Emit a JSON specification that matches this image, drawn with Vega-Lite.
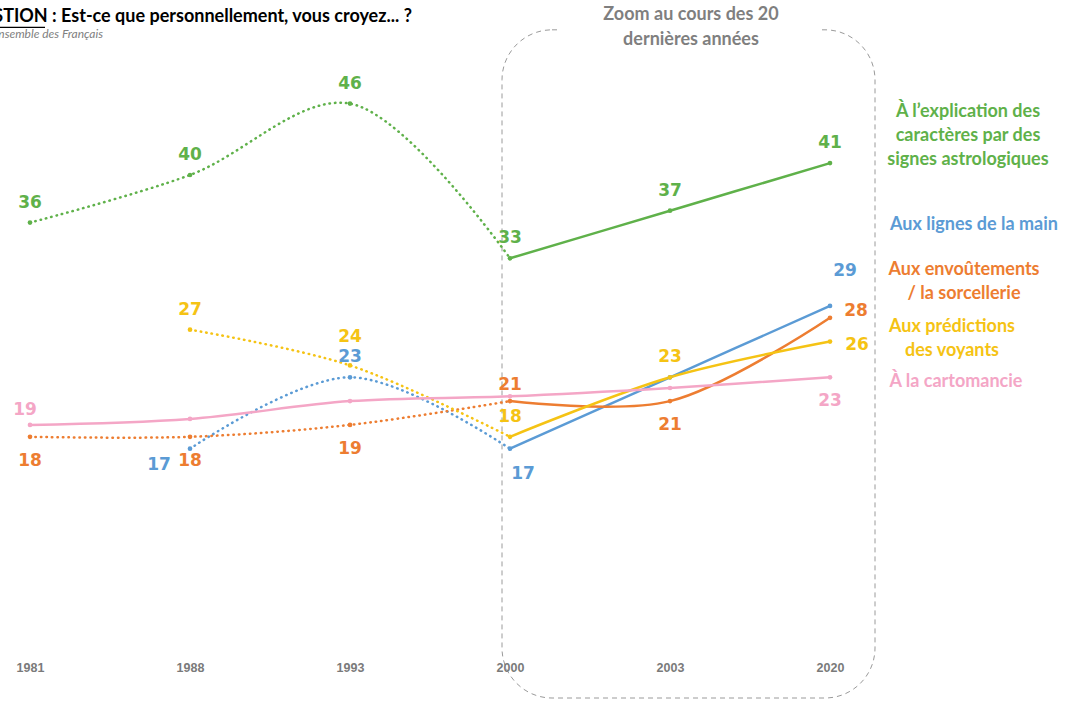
{
  "$schema": "https://vega.github.io/schema/vega-lite/v6.json",
  "width": 1068,
  "height": 701,
  "autosize": "none",
  "padding": 0,
  "background": "white",
  "config": {"view": {"stroke": null}},
  "data": {"values": [
    {"series": "Astrologie", "year": 1981, "value": 36},
    {"series": "Astrologie", "year": 1988, "value": 40},
    {"series": "Astrologie", "year": 1993, "value": 46},
    {"series": "Astrologie", "year": 2000, "value": 33},
    {"series": "Astrologie", "year": 2003, "value": 37},
    {"series": "Astrologie", "year": 2020, "value": 41},
    {"series": "Lignes de la main", "year": 1988, "value": 17},
    {"series": "Lignes de la main", "year": 1993, "value": 23},
    {"series": "Lignes de la main", "year": 2000, "value": 17},
    {"series": "Lignes de la main", "year": 2003, "value": 23},
    {"series": "Lignes de la main", "year": 2020, "value": 29},
    {"series": "Envoûtements", "year": 1981, "value": 18},
    {"series": "Envoûtements", "year": 1988, "value": 18},
    {"series": "Envoûtements", "year": 1993, "value": 19},
    {"series": "Envoûtements", "year": 2000, "value": 21},
    {"series": "Envoûtements", "year": 2003, "value": 21},
    {"series": "Envoûtements", "year": 2020, "value": 28},
    {"series": "Voyants", "year": 1988, "value": 27},
    {"series": "Voyants", "year": 1993, "value": 24},
    {"series": "Voyants", "year": 2000, "value": 18},
    {"series": "Voyants", "year": 2003, "value": 23},
    {"series": "Voyants", "year": 2020, "value": 26},
    {"series": "Cartomancie", "year": 1981, "value": 19},
    {"series": "Cartomancie", "year": 1988, "value": 19.5},
    {"series": "Cartomancie", "year": 1993, "value": 21},
    {"series": "Cartomancie", "year": 2000, "value": 21.4},
    {"series": "Cartomancie", "year": 2003, "value": 22.1},
    {"series": "Cartomancie", "year": 2020, "value": 23}
  ]},
  "encoding": {
    "x": {"field": "year", "type": "ordinal",
      "scale": {"type": "point", "domain": [1981, 1988, 1993, 2000, 2003, 2020], "range": [30, 830], "padding": 0},
      "axis": {"title": null, "domain": false, "ticks": false, "grid": false, "labelAngle": 0, "offset": -46,
        "labelFont": "Liberation Sans", "labelFontSize": 12.5, "labelColor": "#7a7a7a", "labelFontWeight": "bold", "labelPadding": 6}},
    "y": {"field": "value", "type": "quantitative",
      "scale": {"domain": [-4.2017, 54.706], "nice": false, "zero": false}, "axis": null},
    "color": {"field": "series", "type": "nominal",
      "scale": {"domain": ["Astrologie", "Lignes de la main", "Envoûtements", "Voyants", "Cartomancie"],
        "range": ["#5fb14a", "#5b9bd5", "#ed7d31", "#f5c314", "#f4a6c6"]}, "legend": null}
  },
  "layer": [
    {"transform": [{"filter": "datum.series == 'Astrologie' && datum.year == 2000"}],
     "mark": {"type": "rect", "filled": false, "stroke": "#9a9a9a", "strokeWidth": 1, "strokeDash": [5, 4], "cornerRadius": 50, "xOffset": -8, "x2Offset": 365},
     "encoding": {"x2": {"field": "year"}, "y": {"datum": 52.2, "type": "quantitative"}, "y2": {"datum": -3.95}, "color": {"value": "#9a9a9a"}}},
    {"transform": [{"filter": "datum.series == 'Astrologie' && datum.year == 2000"}],
     "mark": {"type": "rect", "fill": "white", "xOffset": 50, "x2Offset": 310},
     "encoding": {"x2": {"field": "year"}, "y": {"datum": 52.7, "type": "quantitative"}, "y2": {"datum": 51.6}, "color": {"value": "white"}}},
    {"transform": [{"filter": "datum.series != 'Cartomancie' && datum.year <= 2000"}],
     "mark": {"type": "line", "interpolate": "catmull-rom", "strokeWidth": 2.5, "strokeDash": [0.5, 5], "strokeCap": "round"}},
    {"transform": [{"filter": "datum.series == 'Cartomancie' || datum.year >= 2000"}],
     "mark": {"type": "line", "interpolate": "catmull-rom", "strokeWidth": 2.5}},
    {"mark": {"type": "circle", "size": 22, "opacity": 1}},
    {"transform": [{"filter": "datum.series == 'Astrologie' || (datum.series == 'Lignes de la main' && datum.year == 1993) || (datum.series == 'Voyants' && (datum.year == 1988 || datum.year == 2000 || datum.year == 2003))"}],
     "mark": {"type": "text", "font": "DejaVu Sans", "fontWeight": "bold", "fontSize": 17, "dy": -20},
     "encoding": {"text": {"field": "value"}}},
    {"transform": [{"filter": "datum.series == 'Envoûtements' && datum.year == 2000"}],
     "mark": {"type": "text", "font": "DejaVu Sans", "fontWeight": "bold", "fontSize": 17, "dy": -16},
     "encoding": {"text": {"field": "value"}}},
    {"transform": [{"filter": "datum.series == 'Voyants' && datum.year == 1993"}],
     "mark": {"type": "text", "font": "DejaVu Sans", "fontWeight": "bold", "fontSize": 17, "dy": -28},
     "encoding": {"text": {"field": "value"}}},
    {"transform": [{"filter": "datum.series == 'Cartomancie' && datum.year == 1981"}],
     "mark": {"type": "text", "font": "DejaVu Sans", "fontWeight": "bold", "fontSize": 17, "dy": -15, "dx": -5},
     "encoding": {"text": {"field": "value"}}},
    {"transform": [{"filter": "(datum.series == 'Envoûtements' && (datum.year == 1981 || datum.year == 1988 || datum.year == 1993 || datum.year == 2003)) || (datum.series == 'Cartomancie' && datum.year == 2020)"}],
     "mark": {"type": "text", "font": "DejaVu Sans", "fontWeight": "bold", "fontSize": 17, "dy": 24},
     "encoding": {"text": {"field": "value"}}},
    {"transform": [{"filter": "datum.series == 'Lignes de la main' && datum.year == 1988"}],
     "mark": {"type": "text", "font": "DejaVu Sans", "fontWeight": "bold", "fontSize": 17, "dy": 16, "dx": -31},
     "encoding": {"text": {"field": "value"}}},
    {"transform": [{"filter": "datum.series == 'Lignes de la main' && datum.year == 2000"}],
     "mark": {"type": "text", "font": "DejaVu Sans", "fontWeight": "bold", "fontSize": 17, "dy": 25, "dx": 13},
     "encoding": {"text": {"field": "value"}}},
    {"transform": [{"filter": "datum.series == 'Lignes de la main' && datum.year == 2020"}],
     "mark": {"type": "text", "font": "DejaVu Sans", "fontWeight": "bold", "fontSize": 17, "dy": -35, "dx": 15},
     "encoding": {"text": {"field": "value"}}},
    {"transform": [{"filter": "datum.series == 'Envoûtements' && datum.year == 2020"}],
     "mark": {"type": "text", "font": "DejaVu Sans", "fontWeight": "bold", "fontSize": 17, "dy": -7, "dx": 26},
     "encoding": {"text": {"field": "value"}}},
    {"transform": [{"filter": "datum.series == 'Voyants' && datum.year == 2020"}],
     "mark": {"type": "text", "font": "DejaVu Sans", "fontWeight": "bold", "fontSize": 17, "dy": 3, "dx": 27},
     "encoding": {"text": {"field": "value"}}},
    {"transform": [{"filter": "datum.series == 'Astrologie' && datum.year == 2020"}],
     "mark": {"type": "text", "font": "Lato", "fontWeight": "bold", "fontSize": 18, "lineHeight": 24, "align": "center", "baseline": "middle", "dx": 138,
       "text": ["À l’explication des", "caractères par des", "signes astrologiques"]},
     "encoding": {"y": {"datum": 45.29, "type": "quantitative"}, "color": {"value": "#5fb14a"}}},
    {"transform": [{"filter": "datum.series == 'Astrologie' && datum.year == 2020"}],
     "mark": {"type": "text", "font": "Lato", "fontWeight": "bold", "fontSize": 18, "align": "center", "baseline": "middle", "dx": 144,
       "text": "Aux lignes de la main"},
     "encoding": {"y": {"datum": 35.8, "type": "quantitative"}, "color": {"value": "#5b9bd5"}}},
    {"transform": [{"filter": "datum.series == 'Astrologie' && datum.year == 2020"}],
     "mark": {"type": "text", "font": "Lato", "fontWeight": "bold", "fontSize": 18, "lineHeight": 24, "align": "center", "baseline": "middle", "dx": 134,
       "text": ["Aux envoûtements", "/ la sorcellerie"]},
     "encoding": {"y": {"datum": 32.02, "type": "quantitative"}, "color": {"value": "#ed7d31"}}},
    {"transform": [{"filter": "datum.series == 'Astrologie' && datum.year == 2020"}],
     "mark": {"type": "text", "font": "Lato", "fontWeight": "bold", "fontSize": 18, "lineHeight": 24, "align": "center", "baseline": "middle", "dx": 122,
       "text": ["Aux prédictions", "des voyants"]},
     "encoding": {"y": {"datum": 27.23, "type": "quantitative"}, "color": {"value": "#f5c314"}}},
    {"transform": [{"filter": "datum.series == 'Astrologie' && datum.year == 2020"}],
     "mark": {"type": "text", "font": "Lato", "fontWeight": "bold", "fontSize": 18, "align": "center", "baseline": "middle", "dx": 126,
       "text": "À la cartomancie"},
     "encoding": {"y": {"datum": 22.6, "type": "quantitative"}, "color": {"value": "#f4a6c6"}}},
    {"transform": [{"filter": "datum.series == 'Astrologie' && datum.year == 2003"}],
     "mark": {"type": "text", "font": "Lato", "fontWeight": "bold", "fontSize": 18, "lineHeight": 25, "align": "center", "baseline": "middle", "dx": 21,
       "text": ["Zoom au cours des 20", "dernières années"]},
     "encoding": {"y": {"datum": 53.45, "type": "quantitative"}, "color": {"value": "#7f7f7f"}}},
    {"transform": [{"filter": "datum.series == 'Astrologie' && datum.year == 1981"}],
     "mark": {"type": "text", "font": "Lato", "fontWeight": "bold", "fontSize": 18, "align": "left", "baseline": "middle", "dx": -75,
       "text": "QUESTION :  Est-ce que personnellement, vous croyez... ?"},
     "encoding": {"y": {"datum": 53.28, "type": "quantitative"}, "color": {"value": "#000000"}}},
    {"transform": [{"filter": "datum.series == 'Astrologie' && datum.year == 1981"}],
     "mark": {"type": "rule", "strokeWidth": 1.3, "xOffset": -75, "x2Offset": 15},
     "encoding": {"x2": {"field": "year"}, "y": {"datum": 52.4, "type": "quantitative"}, "color": {"value": "#000000"}}},
    {"transform": [{"filter": "datum.series == 'Astrologie' && datum.year == 1981"}],
     "mark": {"type": "text", "font": "Lato", "fontStyle": "italic", "fontSize": 12, "align": "left", "baseline": "middle", "dx": -38,
       "text": "Ensemble des Français"},
     "encoding": {"y": {"datum": 51.85, "type": "quantitative"}, "color": {"value": "#808080"}}}
  ]
}
